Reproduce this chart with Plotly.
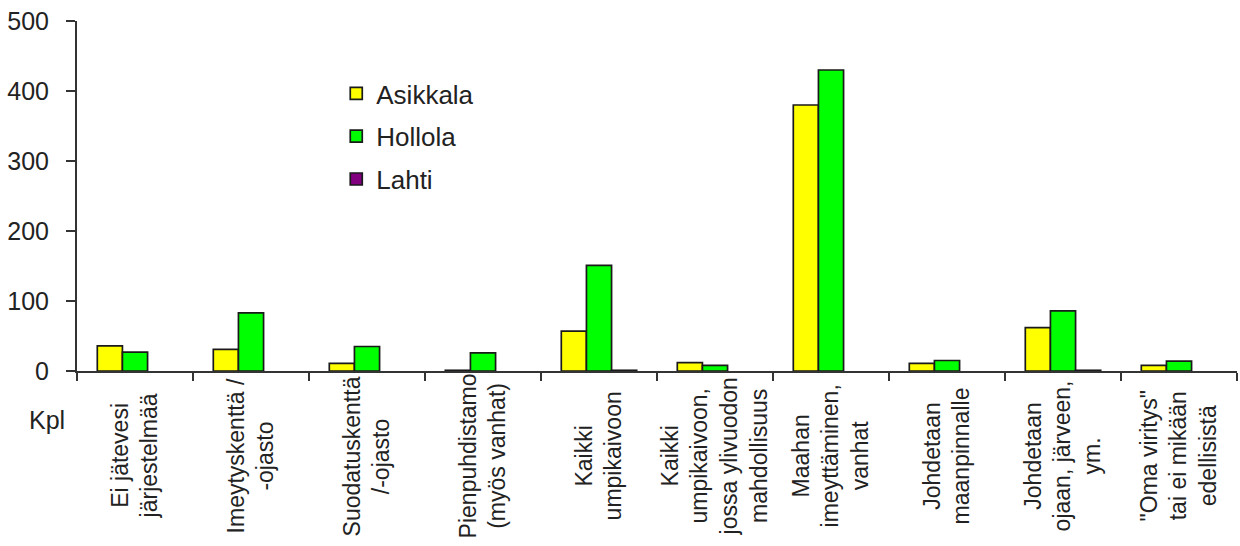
import plotly.graph_objects as go

categories = [
    "Ei jätevesi<br>järjestelmää",
    "Imeytyskenttä /<br>-ojasto",
    "Suodatuskenttä<br>/-ojasto",
    "Pienpuhdistamo<br>(myös vanhat)",
    "Kaikki<br>umpikaivoon",
    "Kaikki<br>umpikaivoon,<br>jossa ylivuodon<br>mahdollisuus",
    "Maahan<br>imeyttäminen,<br>vanhat",
    "Johdetaan<br>maanpinnalle",
    "Johdetaan<br>ojaan, järveen,<br>ym.",
    "\"Oma viritys\"<br>tai ei mikään<br>edellisistä",
]
asikkala = [36, 31, 11, 1, 57, 12, 380, 11, 62, 8]
hollola = [27, 83, 35, 26, 151, 8, 430, 15, 86, 14]
lahti = [0, 0, 0, 0, 1, 0, 0, 0, 1, 0]

series_names = ["Asikkala", "Hollola", "Lahti"]
series_values = [asikkala, hollola, lahti]
series_colors = ["#FFFF00", "#00FF00", "#800080"]

y_tick_values = [0, 100, 200, 300, 400, 500]
y_axis_unit = "Kpl"

FONT = "Liberation Sans, Arial, sans-serif"
TEXT = "#222222"
AXIS = "#333333"

fig = go.Figure()
for name, vals, col in zip(series_names, series_values, series_colors):
    fig.add_trace(go.Bar(
        x=categories,
        y=[v if v > 0 else None for v in vals],  # zero -> no bar drawn
        name=name, legendgroup=name,
        marker=dict(color=col, line=dict(color="#1a1a1a", width=1.7)),
    ))

for cat in categories:
    fig.add_annotation(
        x=cat, xref="x", y=-0.244, yref="paper",
        text=cat, textangle=-90, showarrow=False,
        xanchor="center", yanchor="middle", align="center",
        font=dict(family=FONT, size=23, color=TEXT),
    )

fig.add_annotation(
    x=-0.0256, xref="paper", y=-0.14, yref="paper",
    text=y_axis_unit, showarrow=False, xanchor="center", yanchor="middle",
    font=dict(family=FONT, size=25, color=TEXT),
)

fig.update_layout(
    width=1240, height=546,
    margin=dict(l=77, r=3, t=21, b=175),
    paper_bgcolor="white", plot_bgcolor="white",
    barmode="group", bargap=0.35, bargroupgap=0,
    font=dict(family=FONT, color=TEXT),
    showlegend=True,
    legend=dict(
        x=0.2235, y=0.86, xanchor="left", yanchor="top",
        font=dict(family=FONT, size=26, color=TEXT),
        bgcolor="rgba(0,0,0,0)", tracegroupgap=6,
    ),
    xaxis=dict(
        type="category", showline=True, linecolor=AXIS, linewidth=2,
        ticks="outside", tickson="boundaries", ticklen=8, tickwidth=2,
        tickcolor=AXIS, showticklabels=False, showgrid=False, zeroline=False,
    ),
    yaxis=dict(
        range=[0, 500], tickvals=y_tick_values, showline=True,
        linecolor=AXIS, linewidth=2, ticks="outside", ticklen=9, tickwidth=2,
        tickcolor=AXIS, showgrid=False, zeroline=False,
        tickfont=dict(family=FONT, size=25, color=TEXT),
        ticklabelstandoff=12,
    ),
)

fig.write_html("out.html")
